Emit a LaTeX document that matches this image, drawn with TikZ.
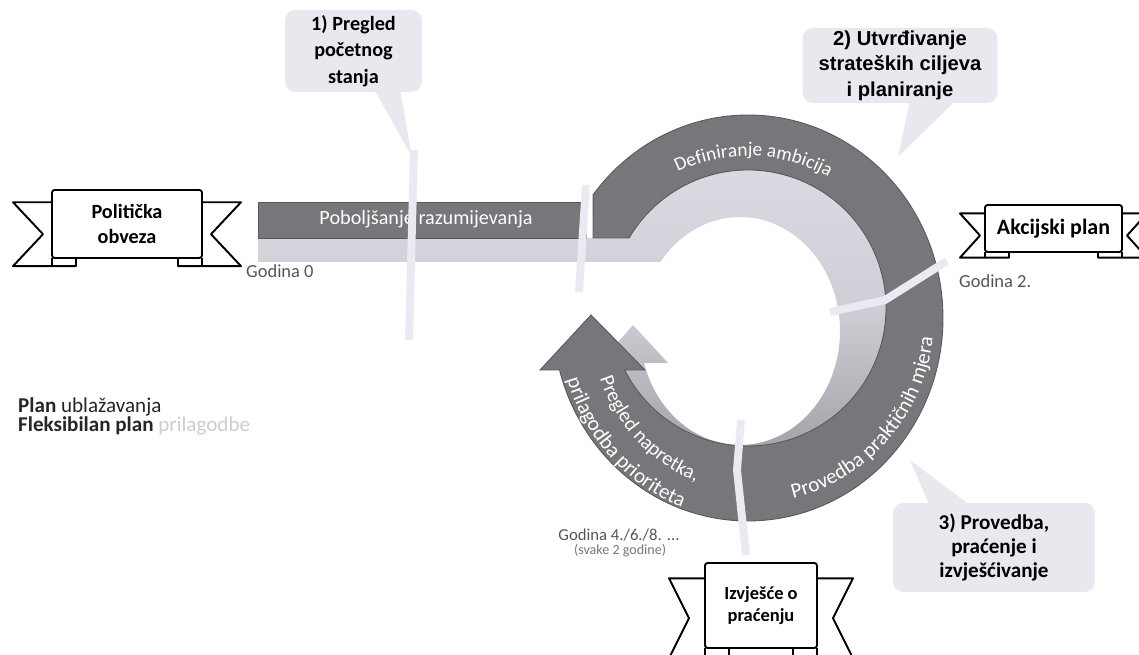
\documentclass[tikz,border=0pt]{standalone}
\usepackage{fontspec}
\setmainfont{Carlito}
\newfontfamily\arialfont{Liberation Sans}
\usetikzlibrary{calc, decorations.text}

\definecolor{darkband}{HTML}{77777B}
\definecolor{lightband}{HTML}{DCDAE2}
\definecolor{midband}{HTML}{9E9EA3}
\definecolor{paleline}{HTML}{ECE9F2}
\definecolor{talkfill}{HTML}{EAE7EF}
\definecolor{labelgray}{HTML}{555555}
\definecolor{faintgray}{HTML}{CDCBD3}

\tikzset{
  ribbonline/.style={draw=black, line width=1.1pt, fill=white, line join=round},
  panel/.style={ribbonline, rounded corners=1.5pt, inner sep=0pt, align=center},
  talkbox/.style={fill=talkfill, rounded corners=6pt, inner sep=0pt, align=center},
  darkring/.style={fill=darkband, draw=black!65, line width=0.5pt},
  gapline/.style={draw=paleline, line width=4.5pt},
  yearlabel/.style={text=labelgray, font=\fontsize{10.5}{12}\selectfont},
  ringtext/.style={decorate, decoration={text along path, text align=center,
    text color=white, text={#1}}}
}

% #1 name, #2 x, #3 y, #4 width, #5 height, #6 tail, #7 notch, #8 font, #9 text
\newcommand{\ribbon}[9]{%
  \filldraw[ribbonline] ({#2-#4/2+24},{#3-#5/2}) -- ({#2-#4/2+24},{#3-0.62*#5})
    -- ({#2-#4/2-#6},{#3-0.62*#5}) -- ({#2-#4/2-#6+#7},{#3-0.15*#5})
    -- ({#2-#4/2-#6},{#3+0.32*#5}) -- ({#2-#4/2+24},{#3+0.32*#5}) -- cycle;
  \filldraw[ribbonline] ({#2+#4/2-24},{#3-#5/2}) -- ({#2+#4/2-24},{#3-0.62*#5})
    -- ({#2+#4/2+#6},{#3-0.62*#5}) -- ({#2+#4/2+#6-#7},{#3-0.15*#5})
    -- ({#2+#4/2+#6},{#3+0.32*#5}) -- ({#2+#4/2-24},{#3+0.32*#5}) -- cycle;
  \draw[ribbonline] ({#2-#4/2},{#3-#5/2}) -- ({#2-#4/2},{#3-0.62*#5});
  \draw[ribbonline] ({#2+#4/2},{#3-#5/2}) -- ({#2+#4/2},{#3-0.62*#5});
  \node[panel, minimum width=#4*0.02cm, minimum height=#5*0.02cm, font={#8}] (#1) at (#2,#3) {#9};
}

\begin{document}
\begin{tikzpicture}[x=0.02cm, y=0.02cm]
  \useasboundingbox (0,0) rectangle (1139,655);

  % inner band
  \path[top color=lightband, bottom color=midband, middle color=lightband!80!midband]
    (258,417) -- ($(748,347)+(149.52:138)$)
    arc[start angle=149.52, end angle=-156.51, radius=138]
    -- (600,292) -- (633,330) -- (668,292)
    -- ($(740,324)+(-163.7:100 and 114)$)
    arc[start angle=-163.7, end angle=142.75, x radius=100, y radius=114]
    -- (258,393) -- cycle;

  % outer band
  \filldraw[darkring] (593,417) -- ($(748,337)+(142.6:195 and 203)$)
    arc[start angle=142.6, end angle=-165.16, x radius=195, y radius=203]
    -- (540,285) -- (591,340) -- (645,285)
    -- ($(748,347)+(-153.3:138)$)
    arc[start angle=-153.3, end angle=149.52, radius=138] -- cycle;
  \filldraw[darkring] (258,417) rectangle (586,453);

  \node[text=white, font=\fontsize{11.5}{13}\selectfont] (poboljsanje) at (426,436) {Poboljšanje razumijevanja};
  \path[ringtext={|\fontsize{11}{13}\selectfont|Definiranje ambicija}]
    ($(748,337)+(128:162)$) arc[start angle=128, end angle=48, radius=162];
  \path[ringtext={|\fontsize{12}{14}\selectfont|Provedba praktičnih mjera}]
    ($(748,337)+(-88:186)$) arc[start angle=-88, end angle=6, radius=186];
  \path[ringtext={|\fontsize{11.5}{14}\selectfont|Pregled napretka{,}}]
    ($(748,337)+(190:158 and 173)$) arc[start angle=190, end angle=262, x radius=158, y radius=173];
  \path[ringtext={|\fontsize{12}{14}\selectfont|prilagodba prioriteta}]
    ($(748,337)+(188:190 and 202)$) arc[start angle=188, end angle=260, x radius=190, y radius=202];

  \coordinate (s0a) at (414,505);
  \coordinate (s0b) at (409,315);
  \coordinate (s1a) at (586,470);
  \coordinate (s1b) at (579,363);
  \coordinate (s2a) at (830,343);
  \coordinate (s2m) at (885,355);
  \coordinate (s2b) at (947,394);
  \coordinate (s3a) at (741,235);
  \coordinate (s3m) at (737,185);
  \coordinate (s3b) at (746,100);
  \draw[gapline] (s0a) -- (s0b);
  \draw[gapline] (s1a) -- (s1b);
  \draw[gapline] (s2a) -- (s2m) -- (s2b);
  \draw[gapline] (s3a) -- (s3m) -- (s3b);

  \node[yearlabel, anchor=west] (godina0) at (240,384) {Godina 0};
  \node[yearlabel, anchor=west] (godina2) at (953,374) {Godina 2.};
  \node[yearlabel, font=\fontsize{9.5}{11}\selectfont] (godina4) at (619,120) {Godina 4./6./8. ...};
  \node[text=labelgray!80, font=\fontsize{8}{9}\selectfont] (svake) at (620,104) {(svake 2 godine)};

  \node[anchor=west, text=black!85, font=\fontsize{12}{12}\selectfont] (plan) at (12,248)
    {\textbf{Plan} ublažavanja};
  \node[anchor=west, text=black!85, font=\fontsize{12}{12}\selectfont] (fleksibilan) at (12,229)
    {\textbf{Fleksibilan plan} \textcolor{faintgray}{prilagodbe}};

  % callouts
  \node[talkbox, minimum width=2.74cm, minimum height=1.64cm,
        font=\bfseries\fontsize{11.5}{15}\selectfont] (pregled) at (353.5,604)
        {1) Pregled\\početnog\\stanja};
  \coordinate (tip1) at (412,498);
  \fill[talkfill] ($(pregled.south)+(19,6)$) -- (tip1) -- ($(pregled.south)+(46,6)$) -- cycle;

  \node[talkbox, minimum width=3.9cm, minimum height=1.5cm,
        font=\arialfont\bfseries\fontsize{11.5}{14.5}\selectfont] (utvrdivanje) at (900,589.5)
        {2) Utvrđivanje\\strateških ciljeva\\i planiranje};
  \coordinate (tip2) at (898,498);
  \fill[talkfill] ($(utvrdivanje.south)+(10,4)$) -- (tip2) -- ($(utvrdivanje.south)+(57,4)$) -- cycle;

  \node[talkbox, minimum width=4.04cm, minimum height=1.78cm,
        font=\bfseries\fontsize{12}{13.5}\selectfont] (provedba) at (994,107.5)
        {3) Provedba,\\praćenje i\\izvješćivanje};
  \coordinate (tip3) at (910,195);
  \fill[talkfill] ($(provedba.north)+(-64,-4)$) -- (tip3) -- ($(provedba.north)+(-22,-4)$) -- cycle;

  % banners
  \ribbon{politicka}{127}{431}{150}{68}{39}{30}{\bfseries\fontsize{11.5}{14}\selectfont}{Politička\\obveza}
  \ribbon{akcijski}{1053.5}{426.5}{137}{47}{25}{20}{\bfseries\fontsize{12.5}{14}\selectfont}{Akcijski plan}
  \ribbon{izvjesce}{761}{49.5}{112}{85}{36}{20}{\bfseries\fontsize{10.5}{12.5}\selectfont}{Izvješće o\\praćenju}
\end{tikzpicture}
\end{document}
